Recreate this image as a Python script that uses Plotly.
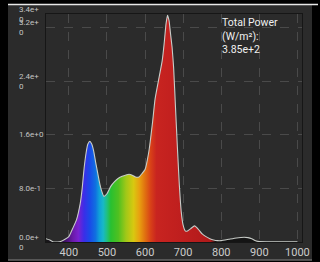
import plotly.graph_objects as go

# ---- data ----
wavelength = [340, 350, 360, 370, 380, 390, 400, 410, 420, 430, 435, 440, 445, 450, 455, 460,
              465, 470, 475, 480, 485, 492, 500, 510, 520, 530, 540, 550, 558, 565, 575,
              584, 592, 600, 610, 620, 626, 635, 645, 650, 655, 659, 663, 667, 671, 675,
              680, 685, 690, 695, 700, 705, 710, 720, 730, 740, 750, 760, 770, 780, 790,
              800, 820, 840, 860, 870, 880, 890, 900, 920, 950, 1000]
power = [0.05, 0.03, 0.0, 0.0, 0.01, 0.04, 0.08, 0.20, 0.33, 0.58, 0.80, 1.10, 1.32, 1.46, 1.50, 1.46,
         1.36, 1.20, 1.05, 0.90, 0.78, 0.68, 0.72, 0.83, 0.90, 0.95, 0.98, 1.00, 1.01, 1.00, 0.97,
         0.97, 1.02, 1.08, 1.35, 1.80, 2.12, 2.40, 2.70, 2.95, 3.25, 3.38, 3.30, 3.10, 2.90, 2.60,
         2.00, 1.40, 0.85, 0.45, 0.25, 0.17, 0.16, 0.20, 0.24, 0.19, 0.12, 0.08, 0.05, 0.03, 0.02,
         0.02, 0.04, 0.06, 0.07, 0.065, 0.05, 0.02, 0.005, 0.003, 0.003, 0.003]

x_ticks = [400, 500, 600, 700, 800, 900, 1000]
y_ticks = [0.0, 0.8, 1.6, 2.4, 3.2, 3.4]
y_tick_labels = ["0.0e+<br>0", "8.0e-1", "1.6e+0", "2.4e+<br>0", "3.2e+<br>0", "3.4e+<br>0"]
total_power_text = "Total Power<br>(W/m²):<br>3.85e+2"

# spectrum colour stops (wavelength, colour)
spec_wl = [340, 375, 390, 410, 425, 440, 455, 470, 480, 490, 500, 510, 530, 550, 570, 585,
           600, 615, 630, 700, 772, 785, 1012]
spec_col = ["#161616", "#1e0c2c", "#3c1064", "#6a1aa8", "#7a22d0", "#3a2ee8", "#1a4ae8",
            "#1070e0", "#10a0d8", "#18b8c8", "#20c080", "#28c030", "#50c020", "#a0c818",
            "#d8c810", "#e8a010", "#e07010", "#d84018", "#c82420", "#be1e1e", "#b01a1a",
            "#141414", "#141414"]

X0, X1 = 340, 1012
colorscale = [[(w - X0) / (X1 - X0), c] for w, c in zip(spec_wl, spec_col)]

fig = go.Figure()
fig.add_trace(go.Scatter(
    x=wavelength, y=power, mode="lines", fill="tozeroy",
    line=dict(color="#c8ccc8", width=1.1, shape="spline", smoothing=0.4),
    fillgradient=dict(type="horizontal", colorscale=colorscale, start=X0, stop=X1),
    hoverinfo="skip", showlegend=False,
))

# plot area in pixels: x 46..302, y 14..242
L, R, T, B = 46, 302, 14, 242
W, H = 320, 262
def px(xp):
    return (xp - L) / (R - L)
def py(yp):
    return (B - yp) / (B - T)

shapes = [
    dict(type="rect", xref="paper", yref="paper", x0=px(8), x1=px(312), y0=py(259.5), y1=py(5),
         fillcolor="#2b2b2b", line=dict(width=0), layer="below"),
    dict(type="line", xref="paper", yref="paper", x0=px(8), x1=px(318), y0=py(4.5), y1=py(4.5),
         line=dict(color="#e8e8e8", width=1.5)),
    dict(type="line", xref="paper", yref="paper", x0=px(8), x1=px(312), y0=py(260), y1=py(260),
         line=dict(color="#9a9a9a", width=1)),
]

annotations = []
for v, t in zip(y_ticks, y_tick_labels):
    annotations.append(dict(x=px(17), xref="paper", y=v, yref="y", text=t, showarrow=False,
                            xanchor="left", yanchor="middle", align="left",
                            font=dict(family="Roboto", size=8, color="#c4c4c4")))
annotations.append(dict(x=px(220), xref="paper", y=py(14), yref="paper", text=total_power_text,
                        showarrow=False, xanchor="left", yanchor="top", align="left",
                        font=dict(family="Roboto", size=10.5, color="#f0f0f0")))

fig.update_layout(
    template="none",
    width=W, height=H,
    margin=dict(l=L, r=W - R, t=T, b=H - B, pad=0, autoexpand=False),
    paper_bgcolor="#000000", plot_bgcolor="#2b2b2b",
    shapes=shapes, annotations=annotations,
    xaxis=dict(range=[X0, X1], tickvals=x_ticks, showgrid=True, gridcolor="#4a4a4a",
               griddash="dash", gridwidth=1, zeroline=False, showline=True, mirror=True,
               linecolor="#161616", linewidth=1, ticks="", automargin=False,
               tickfont=dict(family="Roboto", size=11, color="#cccccc")),
    yaxis=dict(range=[0, 3.4], tickvals=y_ticks, showticklabels=False, showgrid=True,
               gridcolor="#4a4a4a", griddash="dash", gridwidth=1, zeroline=False,
               showline=True, mirror=True, linecolor="#161616", linewidth=1, automargin=False),
)

fig.write_html("out.html", config={"displayModeBar": False},
               post_script="document.body.style.margin='0px';document.body.style.background='#000';")
